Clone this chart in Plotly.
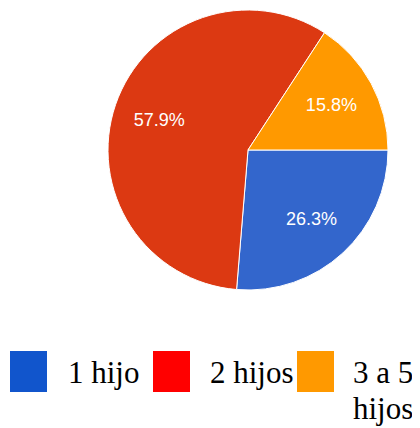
import plotly.graph_objects as go

labels = ["1 hijo", "2 hijos", "3 a 5 hijos"]
values = [26.3, 57.9, 15.8]
pie_colors = ["#3366cc", "#dc3912", "#ff9900"]
legend_colors = ["#1155cc", "#ff0000", "#ff9900"]
# legend label lines (the last label wraps onto two lines)
legend_lines = [["1 hijo"], ["2 hijos"], ["3 a 5", "hijos"]]

W, H = 420, 428
OFF = 8  # page body margin

def px(x):
    return (x - OFF) / W

def py(y):
    return 1 - (y - OFF) / H

dom = dict(x=[px(108), px(388)], y=[py(290), py(10)])

# base pie (slices only)
fig = go.Figure(go.Pie(
    labels=labels,
    values=values,
    sort=False,
    direction="clockwise",
    rotation=90,
    marker=dict(colors=pie_colors, line=dict(color="white", width=1)),
    textinfo="none",
    domain=dom,
    showlegend=False,
    hoverinfo="label+percent",
))

# transparent ring on top carrying the percentage labels
fig.add_trace(go.Pie(
    labels=labels,
    values=values,
    sort=False,
    direction="clockwise",
    rotation=90,
    hole=0.34,
    marker=dict(colors=["rgba(0,0,0,0)"] * 3, line=dict(width=0)),
    texttemplate="%{percent:.1%}",
    textposition="inside",
    insidetextorientation="horizontal",
    textfont=dict(family="Liberation Sans, Arial", size=18, color="white"),
    domain=dom,
    showlegend=False,
    hoverinfo="skip",
))

sq_x = [10, 153, 297]
txt_x = [68, 210, 353]
LINE = 36
shapes = []
annotations = []
for i in range(3):
    shapes.append(dict(type="rect", xref="paper", yref="paper",
                       x0=px(sq_x[i]), x1=px(sq_x[i] + 37),
                       y0=py(392), y1=py(351),
                       fillcolor=legend_colors[i], line=dict(width=0)))
    for j, line in enumerate(legend_lines[i]):
        annotations.append(dict(xref="paper", yref="paper",
                                x=px(txt_x[i] - 2), y=py(353 + j * LINE),
                                xanchor="left", yanchor="top",
                                text=line, showarrow=False, align="left",
                                font=dict(family="Liberation Serif, Times New Roman",
                                          size=31, color="black")))

fig.update_layout(
    width=W, height=H,
    margin=dict(l=0, r=0, t=0, b=0),
    paper_bgcolor="white",
    plot_bgcolor="white",
    shapes=shapes,
    annotations=annotations,
)

fig.write_html("out.html")
